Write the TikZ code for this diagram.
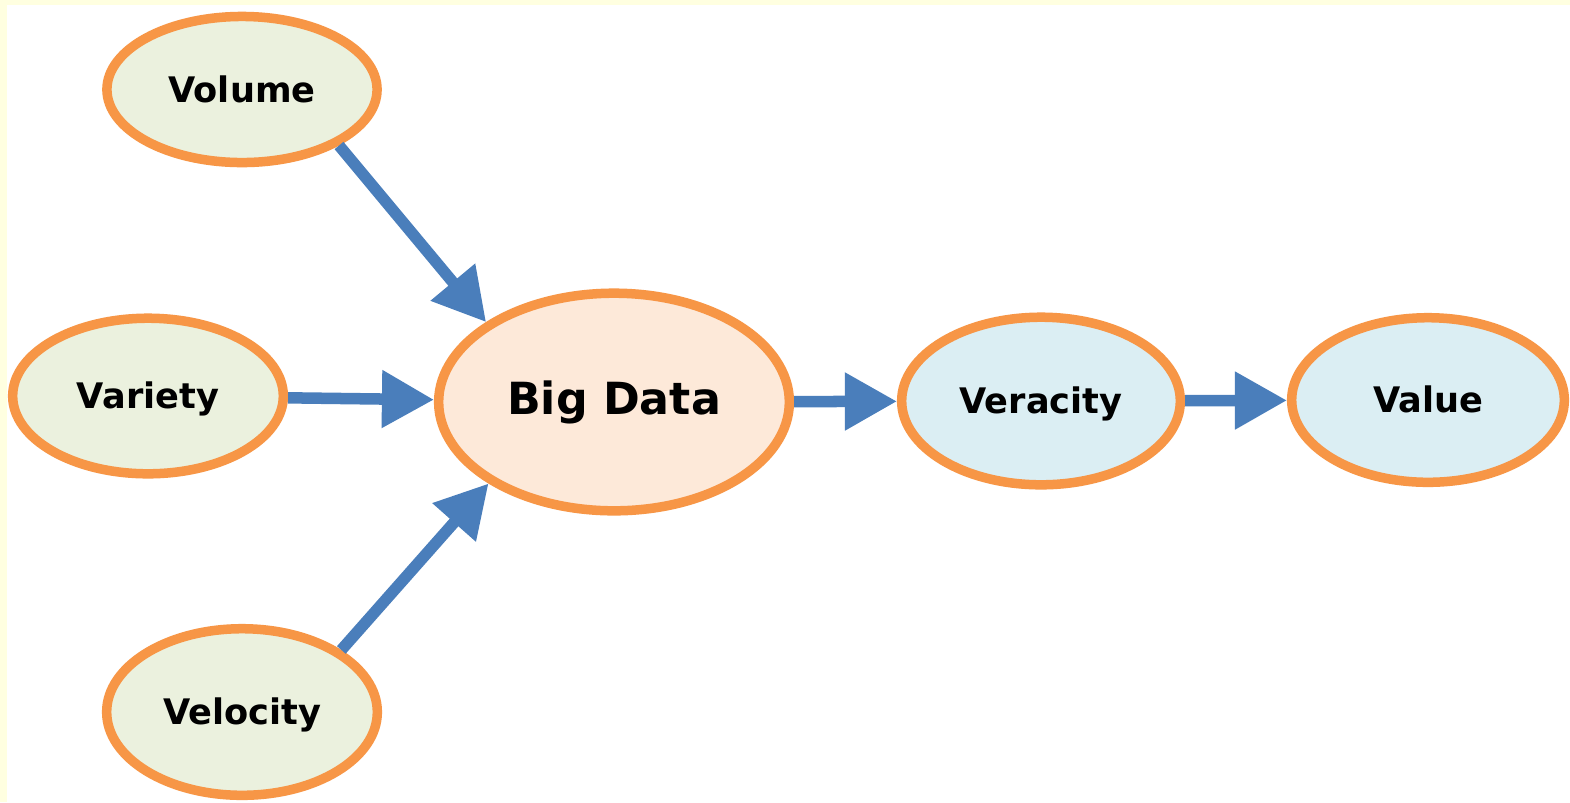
\documentclass[tikz,border=0pt]{standalone}
\usepackage{fontspec}
\setmainfont{DejaVu Sans}
\usetikzlibrary{shapes.geometric,arrows.meta}
\definecolor{bgyellow}{HTML}{FFFFE0}
\definecolor{ostroke}{HTML}{F79646}
\definecolor{gfill}{HTML}{EBF1DE}
\definecolor{pfill}{HTML}{FDE9D9}
\definecolor{bfill}{HTML}{DBEEF3}
\definecolor{arrowblue}{HTML}{4A7EBB}
\tikzset{
  vbox/.style={ellipse, draw=ostroke, line width=0.095cm, inner sep=0pt,
    text height=0.73em, text depth=0pt,
    font=\fontsize{10pt}{12pt}\selectfont\bfseries},
  vgreen/.style={vbox, fill=gfill},
  vblue/.style={vbox, fill=bfill},
  vbig/.style={vbox, fill=pfill, font=\fontsize{12.6pt}{14pt}\selectfont\bfseries},
  conn/.style={draw=arrowblue, line width=0.115cm,
    -{Triangle[length=0.52cm,width=0.55cm]}, fill=arrowblue}
}
\begin{document}
\begin{tikzpicture}[x=0.01cm,y=-0.01cm]
\fill[bgyellow] (0,0) rectangle (1570,802);
\fill[white] (7,5) rectangle (1570,802);
\useasboundingbox (0,0) rectangle (1570,802);
\node[vgreen, minimum width=2.70cm, minimum height=1.46cm] (vol) at (242,89.5) {Volume};
\node[vgreen, minimum width=2.705cm, minimum height=1.555cm] (var) at (148,396) {Variety};
\node[vgreen, minimum width=2.705cm, minimum height=1.665cm] (vel) at (242,712) {Velocity};
\node[vbig, minimum width=3.505cm, minimum height=2.175cm] (bd) at (614,402) {Big Data};
\node[vblue, minimum width=2.785cm, minimum height=1.675cm] (ver) at (1041,401) {Veracity};
\node[vblue, minimum width=2.725cm, minimum height=1.645cm] (val) at (1428,400) {Value};
\draw[conn] (vol.-30) -- (bd.148);
\draw[conn] (vel.32) -- (bd.213);
\draw[conn] (var) -- (bd);
\draw[conn] (bd) -- (ver);
\draw[conn] (ver) -- (val);
\end{tikzpicture}
\end{document}
